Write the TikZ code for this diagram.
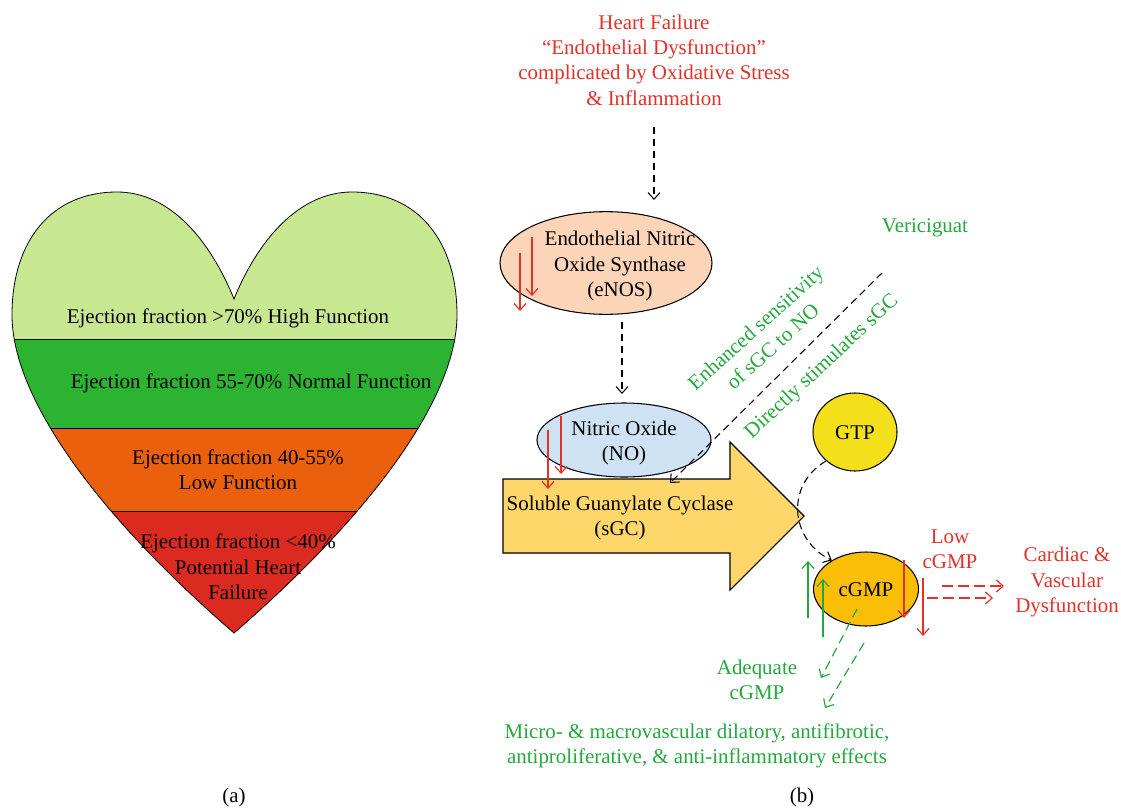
\documentclass[tikz,border=0pt]{standalone}
\usepackage{fontspec}
\setmainfont{Liberation Serif}
\usetikzlibrary{arrows.meta,shapes.geometric}
\definecolor{lgreen}{RGB}{200,231,145}
\definecolor{mgreen}{RGB}{44,179,50}
\definecolor{orng}{RGB}{235,96,12}
\definecolor{dred}{RGB}{219,42,32}
\definecolor{txtred}{RGB}{226,50,40}
\definecolor{txtgreen}{RGB}{34,168,60}
\definecolor{peach}{RGB}{252,213,185}
\definecolor{lblue}{RGB}{207,226,243}
\definecolor{sgcfill}{RGB}{254,214,106}
\definecolor{gtpfill}{RGB}{243,224,26}
\definecolor{cgmpfill}{RGB}{249,190,5}
\def\heartpath{(234,299) .. controls (210,240) and (170,192) .. (117,192) .. controls (52,192) and (12,240) .. (12,315) .. controls (12,395) and (92,510) .. (234,633) .. controls (376,510) and (457,395) .. (457,315) .. controls (457,240) and (417,192) .. (352,192) .. controls (299,192) and (258,240) .. (234,299) -- cycle}
\begin{document}
\begin{tikzpicture}[x=0.75pt,y=-0.75pt,
  txt/.style={align=center,font=\fontsize{15.7}{19}\selectfont,inner sep=0pt},
  ell/.style={ellipse,draw,line width=0.8pt,inner sep=0pt},
  barb/.style={-{Straight Barb[length=5pt,width=9pt]}},
  blackdash/.style={barb,draw=black,line width=0.8pt,dash pattern=on 5.5pt off 3.5pt},
  reddash/.style={barb,draw=txtred,line width=0.9pt,dash pattern=on 8pt off 4pt},
  greendash/.style={barb,draw=txtgreen,line width=0.9pt,dash pattern=on 7pt off 4pt},
  redarrow/.style={barb,draw=txtred,line width=0.9pt},
  greenarrow/.style={barb,draw=txtgreen,line width=0.9pt}]
\useasboundingbox (0,0) rectangle (1121,807);
% ---------- heart (a)
\begin{scope}
  \clip \heartpath;
  \fill[lgreen] (0,150) rectangle (470,339);
  \fill[mgreen] (0,339) rectangle (470,428);
  \fill[orng] (0,428) rectangle (470,511);
  \fill[dred] (0,511) rectangle (470,640);
  \draw[line width=0.6pt] (0,339) -- (470,339);
  \draw[line width=0.6pt] (0,428) -- (470,428);
  \draw[line width=0.6pt] (0,511) -- (470,511);
\end{scope}
\draw[line width=0.6pt] \heartpath;
\node[txt] (h1) at (228,318) {Ejection fraction >70\% High Function};
\node[txt] (h2) at (251,383) {Ejection fraction 55-70\% Normal Function};
\node[txt] (h3) at (238,470) {Ejection fraction 40-55\%\\Low Function};
\node[txt] (h4) at (238,567) {Ejection fraction <40\%\\Potential Heart\\Failure};
\node[txt] (la) at (234,797) {(a)};
\node[txt] (lb) at (802,797) {(b)};
% ---------- pathway (b)
\node[txt,text=txtred] (hf) at (654,60) {Heart Failure\\``Endothelial Dysfunction''\\complicated by Oxidative Stress\\\& Inflammation};
\node[ell,fill=peach,minimum width=159pt,minimum height=77pt] (enos) at (606,263) {};
\node[txt] (enost) at (620,266) {Endothelial Nitric\\Oxide Synthase\\(eNOS)};
\coordinate (a1s) at (654,127); \coordinate (a1e) at (654,200);
\draw[blackdash] (a1s) -- (a1e);
\coordinate (a2s) at (622,322); \coordinate (a2e) at (622,394);
\draw[blackdash] (a2s) -- (a2e);
% sGC big arrow
\draw[line width=0.8pt,fill=sgcfill] (503,479) -- (730,479) -- (730,442) -- (804,516) -- (730,590) -- (730,553) -- (503,553) -- cycle;
\node[txt] (sgc) at (620,518) {Soluble Guanylate Cyclase\\(sGC)};
\coordinate (sgchit) at (670,483);
\node[ell,fill=lblue,minimum width=130.5pt,minimum height=55.5pt] (no) at (624,440) {};
\node[txt] (not) at (624,443) {Nitric Oxide\\(NO)};
% red arrows eNOS
\coordinate (r1s) at (532,237); \coordinate (r1e) at (532,296);
\coordinate (r2s) at (520,253); \coordinate (r2e) at (520,311);
\draw[redarrow] (r1s) -- (r1e);
\draw[redarrow] (r2s) -- (r2e);
% red arrows NO
\coordinate (r3s) at (561,416); \coordinate (r3e) at (561,474);
\coordinate (r4s) at (548,430); \coordinate (r4e) at (548,489);
\draw[redarrow] (r3s) -- (r3e);
\draw[redarrow] (r4s) -- (r4e);
% vericiguat
\node[txt,text=txtgreen] (ver) at (925,228) {Vericiguat};
\coordinate (vs) at (882,273);
\draw[blackdash] (vs) -- (sgchit);
\node[txt,text=txtgreen,rotate=42] (enh) at (764,337) {Enhanced sensitivity\\of sGC to NO};
\node[txt,text=txtgreen,rotate=43] (dir) at (822,367) {Directly stimulates sGC};
% GTP and cGMP
\node[ell,fill=gtpfill,minimum width=63pt,minimum height=58.5pt] (gtp) at (855,432) {};
\node[txt] (gtpt) at (855,433) {GTP};
\node[ell,fill=cgmpfill,minimum width=78.75pt,minimum height=55.5pt] (cgmp) at (866,589) {};
\node[txt] (cgmpt) at (866,590) {cGMP};
\draw[blackdash] (gtp.225) .. controls (785,485) and (790,540) .. (cgmp.140);
% green up arrows
\coordinate (g1s) at (808,618); \coordinate (g1e) at (808,561);
\coordinate (g2s) at (823,637); \coordinate (g2e) at (823,579);
\draw[greenarrow] (g1s) -- (g1e);
\draw[greenarrow] (g2s) -- (g2e);
% red down arrows
\coordinate (r5s) at (904,560); \coordinate (r5e) at (904,618);
\coordinate (r6s) at (923,578); \coordinate (r6e) at (923,636);
\draw[redarrow] (r5s) -- (r5e);
\draw[redarrow] (r6s) -- (r6e);
\node[txt,text=txtred] (low) at (950,549) {Low\\cGMP};
\node[txt,text=txtred] (cvd) at (1067,582) {Cardiac \&\\Vascular\\Dysfunction};
\coordinate (d1s) at (942,586); \coordinate (d1e) at (1004,586);
\coordinate (d2s) at (927,598); \coordinate (d2e) at (993,598);
\draw[reddash] (d1s) -- (d1e);
\draw[reddash] (d2s) -- (d2e);
% green dashed arrows
\coordinate (e1s) at (857,609); \coordinate (e1e) at (821,678);
\coordinate (e2s) at (864,643); \coordinate (e2e) at (825,708);
\draw[greendash] (e1s) -- (e1e);
\draw[greendash] (e2s) -- (e2e);
\node[txt,text=txtgreen] (adq) at (757,680) {Adequate\\cGMP};
\node[txt,text=txtgreen] (eff) at (697,746) {Micro- \& macrovascular dilatory, antifibrotic,\\antiproliferative, \& anti-inflammatory effects};
\end{tikzpicture}
\end{document}
